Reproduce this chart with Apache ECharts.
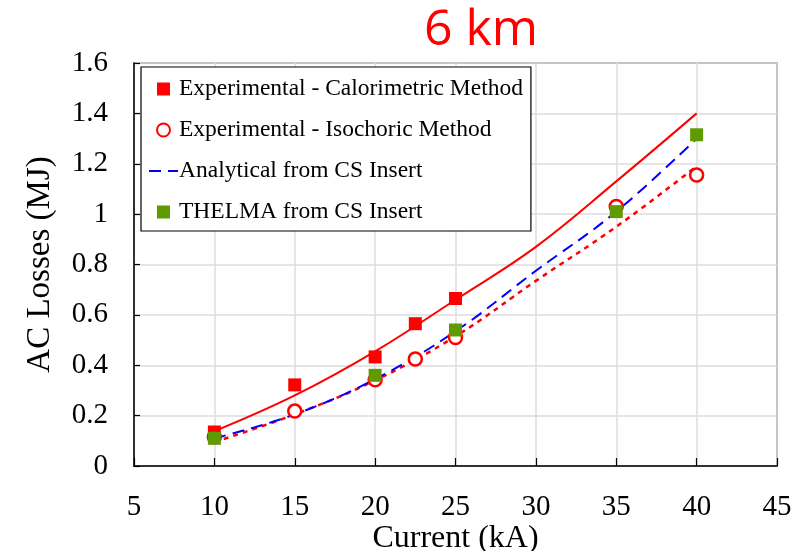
<!DOCTYPE html>
<html>
<head>
<meta charset="utf-8">
<script src="https://cdn.jsdelivr.net/npm/echarts@6/dist/echarts.min.js"></script>
<style>
  html, body { margin: 0; padding: 0; background: #fff; }
  #chart { width: 799px; height: 551px; }
</style>
</head>
<body>
<div id="chart"></div>
<script>
// Measured AC losses (MJ) versus current (kA)
const calorimetricPts = [[10, 0.135], [15, 0.322], [20, 0.433], [22.5, 0.565], [25, 0.665]];
const isochoricPts = [[10, 0.115], [15, 0.218], [20, 0.342], [22.5, 0.425], [25, 0.51], [35, 1.03], [40, 1.155]];
const thelmaPts = [[10, 0.11], [20, 0.36], [25, 0.54], [35, 1.01], [40, 1.315]];

// Curves: fit of calorimetric data, analytical model, fit of isochoric data
const curveCurrents = [10, 15, 20, 25, 30, 35, 40];
const calorimetricFit = [0.138, 0.28, 0.455, 0.66, 0.87, 1.13, 1.40];
const analyticalCS = [0.11, 0.205, 0.345, 0.535, 0.775, 1.01, 1.30];
const isochoricFit = [0.095, 0.205, 0.34, 0.515, 0.735, 0.95, 1.19];

const xTicks = { min: 5, max: 45, interval: 5 };
const yTicks = { min: 0, max: 1.6, interval: 0.2 };

const legendNames = [
  'Experimental - Calorimetric Method',
  'Experimental - Isochoric Method',
  'Analytical from CS Insert',
  'THELMA from CS Insert'
];

const pair = (xs, ys) => xs.map((x, i) => [x, ys[i]]);

// square and circle legend icons drawn at marker proportions
const squareIcon = 'path://M0,0L10,0L10,10L0,10Z';
const circleIcon = 'path://M5,0A5,5,0,1,1,5,10A5,5,0,1,1,5,0Z';

const serif = 'Liberation Serif';
const chart = echarts.init(document.getElementById('chart'), null, { renderer: 'canvas' });

chart.setOption({
  backgroundColor: '#fff',
  animation: false,
  title: {
    text: '6 km',
    left: 476,
    textAlign: 'center',
    top: 1,
    textStyle: { color: '#ff0000', fontFamily: 'Open Sans', fontSize: 50, fontWeight: 'normal' }
  },
  grid: {
    left: 134, right: 22, top: 63, bottom: 85,
    containLabel: false,
    outerBoundsMode: 'none',
    show: true, borderColor: '#555', borderWidth: 1.5, backgroundColor: 'transparent'
  },
  legend: {
    orient: 'vertical',
    left: 141, top: 67,
    padding: [10, 8, 7, 7],
    itemGap: 17,
    itemWidth: 29,
    itemHeight: 13,
    symbolKeepAspect: true,
    backgroundColor: '#fff',
    borderColor: '#000',
    borderWidth: 1.2,
    textStyle: { fontFamily: serif, fontSize: 23.5, color: '#000', padding: [0, 0, 0, -4] },
    data: [
      { name: legendNames[0], icon: squareIcon, symbolKeepAspect: true },
      { name: legendNames[1], icon: circleIcon, symbolKeepAspect: true },
      { name: legendNames[2], itemStyle: { color: 'rgba(0,0,0,0)', borderWidth: 0, opacity: 0 } },
      { name: legendNames[3], icon: squareIcon, symbolKeepAspect: true }
    ]
  },
  xAxis: {
    type: 'value',
    min: xTicks.min, max: xTicks.max, interval: xTicks.interval,
    name: 'Current (kA)',
    nameLocation: 'middle',
    nameGap: 57,
    nameMoveOverlap: false,
    nameTextStyle: { fontFamily: serif, fontSize: 32, color: '#000' },
    axisLine: { lineStyle: { color: '#000', width: 1.5 } },
    axisTick: { inside: true, length: 8, lineStyle: { color: '#000', width: 1.2 } },
    axisLabel: { fontFamily: serif, fontSize: 29, color: '#000', margin: 27 },
    splitLine: { show: true, lineStyle: { color: '#dcdcdc', width: 1.5 } }
  },
  yAxis: {
    type: 'value',
    min: yTicks.min, max: yTicks.max, interval: yTicks.interval,
    name: 'AC Losses (MJ)',
    nameLocation: 'middle',
    nameGap: 77,
    nameTextStyle: { fontFamily: serif, fontSize: 33, color: '#000' },
    axisLine: { show: true, lineStyle: { color: '#000', width: 1.5 } },
    axisTick: { show: true, inside: true, length: 6, lineStyle: { color: '#000', width: 1.2 } },
    axisLabel: { fontFamily: serif, fontSize: 29, color: '#000', margin: 26 },
    splitLine: { show: true, lineStyle: { color: '#dcdcdc', width: 1.5 } }
  },
  series: [
    {
      name: 'Calorimetric fit',
      type: 'line',
      data: pair(curveCurrents, calorimetricFit),
      smooth: 0.4,
      symbol: 'none',
      lineStyle: { color: '#ff0000', width: 2 },
      z: 2
    },
    {
      name: 'Isochoric fit',
      type: 'line',
      data: pair(curveCurrents, isochoricFit),
      smooth: 0.4,
      symbol: 'none',
      lineStyle: { color: '#ff0000', width: 2.5, type: [5, 5] },
      z: 2
    },
    {
      name: legendNames[2],
      type: 'line',
      data: pair(curveCurrents, analyticalCS),
      smooth: 0.4,
      symbol: 'none',
      itemStyle: { color: '#0000ff' },
      lineStyle: { color: '#0000ff', width: 2, type: [12, 7] },
      z: 3
    },
    {
      name: legendNames[0],
      type: 'scatter',
      data: calorimetricPts,
      symbol: 'rect',
      symbolSize: 13,
      itemStyle: { color: '#ff0000', opacity: 1 },
      z: 4
    },
    {
      name: legendNames[1],
      type: 'scatter',
      data: isochoricPts,
      symbol: 'circle',
      symbolSize: 13,
      itemStyle: { color: '#fff', borderColor: '#ff0000', borderWidth: 2.5, opacity: 1 },
      z: 5
    },
    {
      name: legendNames[3],
      type: 'scatter',
      data: thelmaPts,
      symbol: 'rect',
      symbolSize: 13,
      itemStyle: { color: '#5f9a00', opacity: 1 },
      z: 6
    }
  ]
});
</script>
</body>
</html>
